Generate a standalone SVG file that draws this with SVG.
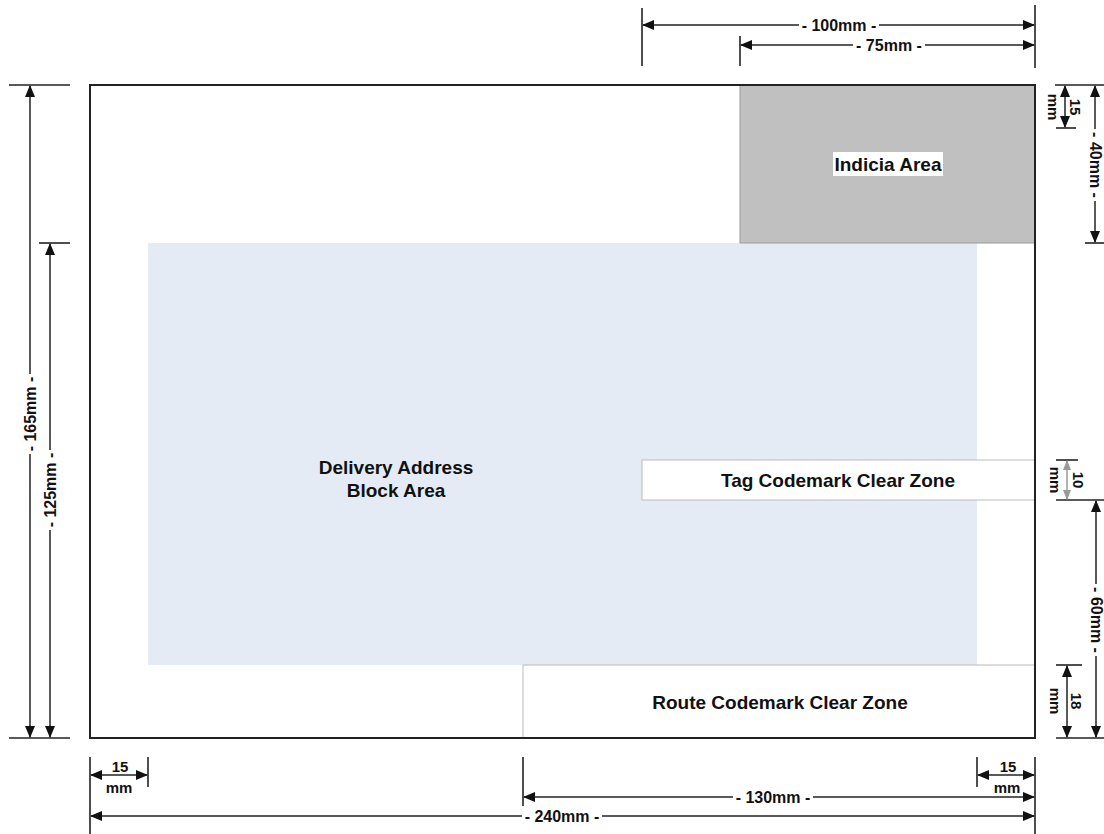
<svg xmlns="http://www.w3.org/2000/svg" width="1104" height="834" viewBox="0 0 1104 834">
<style>
.lbl{font-family:"Liberation Sans",Arial,sans-serif;font-weight:bold;font-size:19px;fill:#111;text-anchor:middle;dominant-baseline:central}
.dim{font-family:"Liberation Sans",Arial,sans-serif;font-weight:bold;font-size:16px;fill:#111;text-anchor:middle;dominant-baseline:central}
.sm{font-family:"Liberation Sans",Arial,sans-serif;font-weight:bold;font-size:15px;fill:#111;text-anchor:middle;dominant-baseline:central}
.ext{stroke:#222;stroke-width:1.6;fill:none}
.arr{stroke:#222;stroke-width:1.5;fill:none;marker-start:url(#ah);marker-end:url(#ah)}
.arrg{stroke:#999;stroke-width:1.5;fill:none;marker-start:url(#ahg);marker-end:url(#ahg)}
.gap{fill:#fff}
</style>
<defs>
<marker id="ah" markerUnits="userSpaceOnUse" markerWidth="12" markerHeight="10" refX="11" refY="5" orient="auto-start-reverse" viewBox="0 0 12 10"><path d="M0,0 L12,5 L0,10 Z" fill="#111"/></marker>
<marker id="ahg" markerUnits="userSpaceOnUse" markerWidth="10" markerHeight="8" refX="9" refY="4" orient="auto-start-reverse" viewBox="0 0 10 8"><path d="M0,0 L10,4 L0,8 Z" fill="#999"/></marker>
</defs>
<rect width="1104" height="834" fill="#fff"/>
<g id="envelope"><rect x="90" y="85" width="945" height="653" fill="#fff"/></g>
<g id="delivery"><rect x="148" y="243" width="829" height="422" fill="#e4ebf5"/>
<text class="lbl" x="396" y="467">Delivery Address</text><text class="lbl" x="396" y="490">Block Area</text></g>
<g id="indicia"><rect x="740" y="85" width="295" height="158" fill="#c0c0c0" stroke="#999" stroke-width="1"/>
<rect x="833" y="152" width="110" height="24" fill="#fff"/><text class="lbl" x="888" y="164">Indicia Area</text></g>
<g id="tag"><rect x="642" y="460" width="393" height="40" fill="#fff" stroke="#bbb" stroke-width="1"/>
<text class="lbl" x="838" y="480">Tag Codemark Clear Zone</text></g>
<g id="route"><rect x="523" y="665" width="512" height="73" fill="#fff" stroke="#bbb" stroke-width="1"/>
<text class="lbl" x="780" y="702">Route Codemark Clear Zone</text></g>
<rect x="90" y="85" width="945" height="653" fill="none" stroke="#222" stroke-width="2"/>
<g id="connectors">
<line class="ext" x1="642" y1="8" x2="642" y2="66"/>
<line class="ext" x1="1035" y1="5" x2="1035" y2="68"/>
<line class="ext" x1="740" y1="36" x2="740" y2="66"/>
<line class="arr" x1="643" y1="25" x2="1034" y2="25"/>
<line class="arr" x1="741" y1="45" x2="1034" y2="45"/>
<rect class="gap" x="799" y="16" width="80" height="18"/><text class="dim" x="839" y="25">- 100mm -</text>
<rect class="gap" x="853" y="36" width="72" height="18"/><text class="dim" x="889" y="45">- 75mm -</text>
<line class="ext" x1="9" y1="85" x2="70" y2="85"/>
<line class="ext" x1="9" y1="738" x2="70" y2="738"/>
<line class="ext" x1="39" y1="243" x2="70" y2="243"/>
<line class="arr" x1="30" y1="86" x2="30" y2="737"/>
<line class="arr" x1="50" y1="244" x2="50" y2="737"/>
<rect class="gap" x="21" y="374" width="18" height="80"/><text class="dim" transform="translate(30,414) rotate(-90)">- 165mm -</text>
<rect class="gap" x="41" y="450" width="18" height="80"/><text class="dim" transform="translate(50,490) rotate(-90)">- 125mm -</text>
<line class="ext" x1="1055" y1="85" x2="1104" y2="85"/>
<line class="ext" x1="1056" y1="128" x2="1076" y2="128"/>
<line class="ext" x1="1085" y1="243" x2="1104" y2="243"/>
<line class="arr" x1="1065" y1="86" x2="1065" y2="127"/>
<text class="sm" transform="translate(1075,107) rotate(90)">15</text>
<text class="sm" transform="translate(1053,107) rotate(90)">mm</text>
<line class="arr" x1="1095" y1="86" x2="1095" y2="242"/>
<rect class="gap" x="1086" y="129" width="18" height="72"/><text class="dim" transform="translate(1095,165) rotate(90)">- 40mm -</text>
<line class="ext" x1="1056" y1="460" x2="1078" y2="460"/>
<line class="ext" x1="1056" y1="500" x2="1104" y2="500"/>
<line class="arrg" x1="1067" y1="461" x2="1067" y2="499"/>
<text class="sm" transform="translate(1078,480) rotate(90)">10</text>
<text class="sm" transform="translate(1055,480) rotate(90)">mm</text>
<line class="arr" x1="1096" y1="501" x2="1096" y2="737"/>
<rect class="gap" x="1087" y="584" width="18" height="72"/><text class="dim" transform="translate(1096,620) rotate(90)">- 60mm -</text>
<line class="ext" x1="1056" y1="665" x2="1082" y2="665"/>
<line class="ext" x1="1056" y1="738" x2="1104" y2="738"/>
<line class="arr" x1="1067" y1="666" x2="1067" y2="737"/>
<text class="sm" transform="translate(1076,701) rotate(90)">18</text>
<text class="sm" transform="translate(1055,701) rotate(90)">mm</text>
<line class="ext" x1="90" y1="757" x2="90" y2="834"/>
<line class="ext" x1="148" y1="757" x2="148" y2="787"/>
<line class="ext" x1="523" y1="757" x2="523" y2="806"/>
<line class="ext" x1="977" y1="757" x2="977" y2="787"/>
<line class="ext" x1="1035" y1="757" x2="1035" y2="834"/>
<line class="arr" x1="91" y1="775" x2="147" y2="775"/>
<text class="sm" x="120" y="766">15</text><text class="sm" x="119" y="787">mm</text>
<line class="arr" x1="978" y1="775" x2="1034" y2="775"/>
<text class="sm" x="1008" y="766">15</text><text class="sm" x="1007" y="787">mm</text>
<line class="arr" x1="524" y1="797" x2="1034" y2="797"/>
<rect class="gap" x="733" y="788" width="80" height="18"/><text class="dim" x="773" y="797">- 130mm -</text>
<line class="arr" x1="91" y1="816" x2="1034" y2="816"/>
<rect class="gap" x="522" y="807" width="80" height="18"/><text class="dim" x="562" y="816">- 240mm -</text>
</g>
</svg>
